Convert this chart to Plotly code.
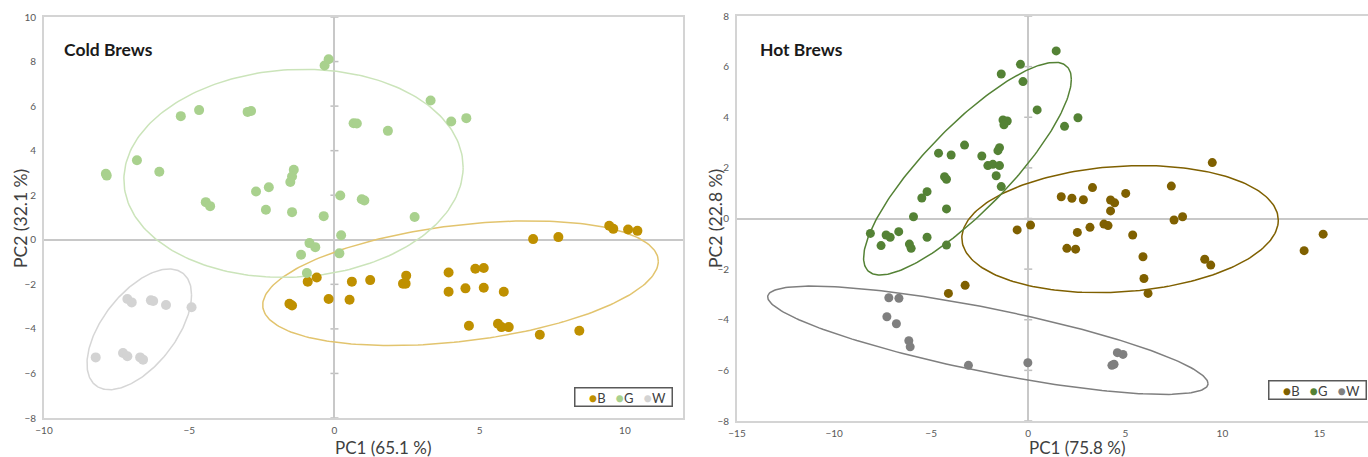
import numpy as np
import plotly.graph_objects as go

# ---------------- data: Cold brews ----------------
cold_B_x = [-0.92, -0.61, -1.55, -1.46, -0.20, 0.60, 0.52, 1.23, 2.47, 2.36, 2.45, 3.93, 3.93, 4.51, 4.85,
            5.14, 5.14, 5.83, 4.63, 5.63, 5.75, 6.00, 7.07, 8.43, 6.84, 7.71, 9.46, 9.60, 10.11, 10.43]
cold_B_y = [-1.88, -1.69, -2.87, -2.95, -2.66, -1.88, -2.69, -1.81, -1.61, -1.97, -1.97, -1.47, -2.33, -2.18, -1.30,
            -1.27, -2.15, -2.33, -3.86, -3.77, -3.92, -3.92, -4.26, -4.08, 0.03, 0.12, 0.63, 0.49, 0.46, 0.40]
cold_G_x = [-0.20, -0.34, -5.29, -4.66, -2.99, -2.87, -6.80, -7.87, -7.84, -6.03, -4.43, -4.28, -2.70, -2.26, -1.40,
            -1.46, -1.52, -2.36, -1.46, -0.37, 0.20, 0.23, 3.31, 4.02, 4.54, 0.66, 0.77, 1.84, 0.94, 1.03,
            2.76, -0.86, -0.66, -1.15, 0.17, -0.95]
cold_G_y = [8.10, 7.82, 5.55, 5.82, 5.74, 5.78, 3.57, 2.96, 2.88, 3.05, 1.69, 1.51, 2.17, 2.36, 3.14,
            2.84, 2.59, 1.35, 1.24, 1.06, 1.99, 0.20, 6.25, 5.31, 5.46, 5.23, 5.22, 4.89, 1.82, 1.76,
            1.02, -0.15, -0.33, -0.67, -0.61, -1.49]
cold_W_x = [-7.13, -6.98, -6.32, -6.24, -5.80, -4.92, -8.22, -7.28, -7.13, -6.69, -6.59]
cold_W_y = [-2.66, -2.81, -2.72, -2.75, -2.93, -3.03, -5.28, -5.08, -5.23, -5.28, -5.38]

# ---------------- data: Hot brews ----------------
hot_B_x = [9.48, 7.37, 1.70, 2.25, 2.84, 3.31, 5.02, 4.24, 4.45, 4.24, 7.51, 7.95, 0.12, 2.53, 3.18,
           3.90, 4.11, 5.38, 15.19, -0.57, 1.99, 2.44, 5.91, 5.96, 6.17, 9.09, 9.40, 14.21, -3.25, -4.11]
hot_B_y = [2.21, 1.28, 0.86, 0.80, 0.74, 1.22, 0.99, 0.73, 0.62, 0.30, -0.06, 0.07, -0.26, -0.55, -0.35,
           -0.22, -0.28, -0.65, -0.62, -0.45, -1.18, -1.21, -1.51, -2.37, -2.96, -1.61, -1.84, -1.27, -2.64, -2.96]
hot_G_x = [-0.40, -1.39, -0.27, -1.30, -1.08, -1.25, -3.28, -4.62, -3.97, -2.39, -1.48, -1.56, -2.08, -1.82, -1.48,
           -1.65, -1.39, -4.31, -4.21, -5.21, -5.48, -4.21, -5.91, -8.13, -7.32, -7.11, -6.67, -5.21, -7.58, -6.12,
           -6.03, -4.21, 1.44, 0.46, 1.87, 2.56]
hot_G_y = [6.09, 5.71, 5.41, 3.89, 3.85, 3.70, 2.90, 2.58, 2.51, 2.47, 2.80, 2.68, 2.09, 2.14, 2.09,
           1.69, 1.26, 1.65, 1.55, 1.06, 0.81, 0.38, 0.07, -0.59, -0.65, -0.74, -0.52, -0.74, -1.07, -1.01,
           -1.18, -1.05, 6.62, 4.29, 3.64, 3.98]
hot_W_x = [-7.18, -6.66, -7.28, -6.79, -6.15, -6.08, -3.08, -0.02, 4.59, 4.88, 4.31, 4.42]
hot_W_y = [-3.13, -3.15, -3.88, -4.16, -4.83, -5.07, -5.80, -5.70, -5.30, -5.37, -5.80, -5.76]

# ---------------- confidence ellipses (centre, half extents, correlation) ----------------
groups = ["B", "G", "W"]
cold_ell_cx = [4.34, -1.41, -6.72]
cold_ell_cy = [-1.95, 2.98, -4.02]
cold_ell_xr = [6.81, 5.84, 1.80]
cold_ell_yr = [2.80, 4.67, 2.71]
cold_ell_r = [0.35, 0.06, 0.57]
hot_ell_cx = [4.73, -3.13, -2.08]
hot_ell_cy = [-0.42, 1.97, -4.81]
hot_ell_xr = [8.15, 5.35, 11.34]
hot_ell_yr = [2.51, 4.20, 2.14]
hot_ell_r = [0.14, 0.84, -0.80]

# ---------------- labels ----------------
cold_title = "Cold Brews"
hot_title = "Hot Brews"
cold_xlabel = "PC1 (65.1 %)"
cold_ylabel = "PC2 (32.1 %)"
hot_xlabel = "PC1 (75.8 %)"
hot_ylabel = "PC2 (22.8 %)"

# ---------------- styles ----------------
cold_colors = {"B": "#BF9000", "G": "#A9D18E", "W": "#D3D3D3"}
cold_ell_colors = {"B": "#E2C46E", "G": "#CBE4BA", "W": "#D6D6D6"}
hot_colors = {"B": "#7F6000", "G": "#548235", "W": "#7F7F7F"}
hot_ell_colors = {"B": "#7F6000", "G": "#548235", "W": "#7F7F7F"}

W, H = 1368, 457
FONT = "Lato"
TXT = "#404040"


def ellipse(cx, cy, xr, yr, r, n=240):
    t = np.linspace(0, 2 * np.pi, n)
    phi = np.arccos(r)
    return cx + xr * np.cos(t), cy + yr * np.cos(t - phi)


fig = go.Figure()

cold_data = {"B": (cold_B_x, cold_B_y), "G": (cold_G_x, cold_G_y), "W": (cold_W_x, cold_W_y)}
hot_data = {"B": (hot_B_x, hot_B_y), "G": (hot_G_x, hot_G_y), "W": (hot_W_x, hot_W_y)}

# ellipses first (behind points)
for i, g in enumerate(groups):
    ex, ey = ellipse(cold_ell_cx[i], cold_ell_cy[i], cold_ell_xr[i], cold_ell_yr[i], cold_ell_r[i])
    fig.add_trace(go.Scatter(x=ex, y=ey, mode="lines", line=dict(color=cold_ell_colors[g], width=1.5),
                             showlegend=False, hoverinfo="skip", xaxis="x", yaxis="y"))
    ex, ey = ellipse(hot_ell_cx[i], hot_ell_cy[i], hot_ell_xr[i], hot_ell_yr[i], hot_ell_r[i])
    fig.add_trace(go.Scatter(x=ex, y=ey, mode="lines", line=dict(color=hot_ell_colors[g], width=1.5),
                             showlegend=False, hoverinfo="skip", xaxis="x2", yaxis="y2"))

for g in groups:
    x, y = cold_data[g]
    fig.add_trace(go.Scatter(x=x, y=y, mode="markers", name=g, showlegend=False,
                             marker=dict(color=cold_colors[g], size=10),
                             xaxis="x", yaxis="y"))
for g in groups:
    x, y = hot_data[g]
    fig.add_trace(go.Scatter(x=x, y=y, mode="markers", name=g, showlegend=False,
                             marker=dict(color=hot_colors[g], size=9),
                             xaxis="x2", yaxis="y2"))

# plot areas (pixels)
L1, R1, T1, B1 = 44, 683, 17, 418
L2, R2, T2, B2 = 737, 1368, 16, 421


def px_x(p):
    return p / W


def px_y(p):
    return (H - p) / H


axis_common = dict(showgrid=False, showline=True, mirror=True, linecolor="#D4D4D4", linewidth=2,
                   zeroline=True, zerolinecolor="#C8C8C8", zerolinewidth=2, ticks="", automargin=False,
                   tickfont=dict(family=FONT, size=10, color="#595959"))

fig.update_layout(
    template="none",
    width=W, height=H,
    margin=dict(l=0, r=0, t=0, b=0, pad=0),
    paper_bgcolor="white", plot_bgcolor="white",
    showlegend=False,
    font=dict(family=FONT, color=TXT),
    xaxis=dict(domain=[px_x(L1), px_x(R1)], range=[-10, 12], dtick=5, tick0=0, anchor="y",
               ticklabelstandoff=2, **axis_common),
    yaxis=dict(domain=[px_y(B1), px_y(T1)], range=[-8, 10], dtick=2, tick0=0, anchor="x",
               ticklabelstandoff=4, **axis_common),
    xaxis2=dict(domain=[px_x(L2), px_x(R2)], range=[-15, 17.5], dtick=5, tick0=0, anchor="y2",
                ticklabelstandoff=2, **axis_common),
    yaxis2=dict(domain=[px_y(B2), px_y(T2)], range=[-8, 8], dtick=2, tick0=0, anchor="x2",
                ticklabelstandoff=4, **axis_common),
)

# small cross ticks on the vertical zero axis
shapes = []
for v in range(-8, 11, 2):
    shapes.append(dict(type="line", xref="x", yref="y", xsizemode="pixel", xanchor=0, x0=-4, x1=4,
                       y0=v, y1=v, line=dict(color="#BFBFBF", width=1.5), layer="below"))
for v in range(-8, 9, 2):
    shapes.append(dict(type="line", xref="x2", yref="y2", xsizemode="pixel", xanchor=0, x0=-4, x1=4,
                       y0=v, y1=v, line=dict(color="#BFBFBF", width=1.5), layer="below"))
fig.update_layout(shapes=shapes)

NB = "\u00a0"


def legend_text(colors):
    parts = [f"<span style='color:{colors[g]};font-size:14px'>●</span>{g}" for g in groups]
    return NB * 4 + (NB * 3).join(parts) + NB * 2


ann = [
    dict(text=f"<b>{cold_title}</b>", x=px_x(62), y=px_y(49), xref="paper", yref="paper",
         xanchor="left", yanchor="middle", showarrow=False, font=dict(family=FONT, size=17.5, color="#1a1a1a")),
    dict(text=f"<b>{hot_title}</b>", x=px_x(758), y=px_y(49), xref="paper", yref="paper",
         xanchor="left", yanchor="middle", showarrow=False, font=dict(family=FONT, size=17.5, color="#1a1a1a")),
    dict(text=cold_xlabel, x=px_x(383), y=px_y(447), xref="paper", yref="paper",
         xanchor="center", yanchor="middle", showarrow=False, font=dict(family=FONT, size=17, color=TXT)),
    dict(text=hot_xlabel, x=px_x(1077), y=px_y(447), xref="paper", yref="paper",
         xanchor="center", yanchor="middle", showarrow=False, font=dict(family=FONT, size=17, color=TXT)),
    dict(text=cold_ylabel, x=px_x(20), y=px_y(219), xref="paper", yref="paper", textangle=-90,
         xanchor="center", yanchor="middle", showarrow=False, font=dict(family=FONT, size=17.5, color=TXT)),
    dict(text=hot_ylabel, x=px_x(715), y=px_y(219), xref="paper", yref="paper", textangle=-90,
         xanchor="center", yanchor="middle", showarrow=False, font=dict(family=FONT, size=17.5, color=TXT)),
    # legends
    dict(text=legend_text(cold_colors), x=px_x(673), y=px_y(387), xref="paper", yref="paper",
         xanchor="right", yanchor="top", showarrow=False, bordercolor="#595959", borderwidth=1.5,
         borderpad=0, bgcolor="white", font=dict(family=FONT, size=13, color=TXT)),
    dict(text=legend_text(hot_colors), x=px_x(1367), y=px_y(380), xref="paper", yref="paper",
         xanchor="right", yanchor="top", showarrow=False, bordercolor="#595959", borderwidth=1.5,
         borderpad=0, bgcolor="white", font=dict(family=FONT, size=13, color=TXT)),
]
fig.update_layout(annotations=ann)

fig.write_html("out.html", config={"displayModeBar": False},
               post_script="document.body.style.margin='0';document.body.style.overflow='hidden';")
